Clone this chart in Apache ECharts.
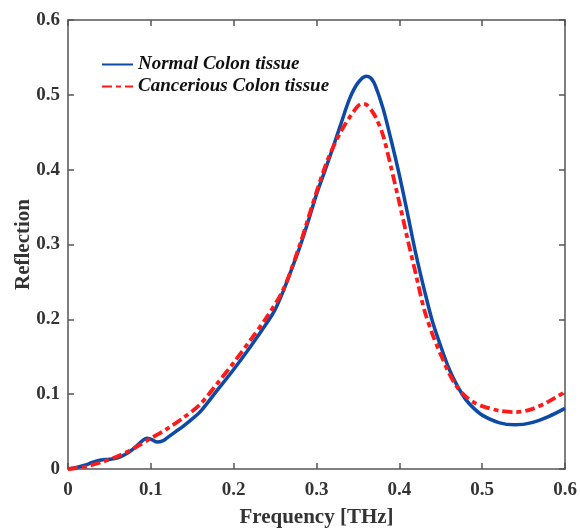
<!DOCTYPE html>
<html>
<head>
<meta charset="utf-8">
<script src="https://cdn.jsdelivr.net/npm/echarts@6/dist/echarts.min.js"></script>
<style>
  html, body { margin: 0; padding: 0; background: #fff; }
  #main { width: 580px; height: 529px; }
</style>
</head>
<body>
<div id="main"></div>
<script>
// data
const seriesNames = ['Normal Colon tissue', 'Cancerious Colon tissue']

const normalFreq = [0, 0.01, 0.02, 0.03, 0.04, 0.05, 0.06, 0.07, 0.08, 0.09, 0.095, 0.1, 0.108, 0.115, 0.12, 0.13, 0.14, 0.15, 0.16, 0.18, 0.2, 0.22, 0.24, 0.25, 0.26, 0.27, 0.28, 0.29, 0.3, 0.31, 0.32, 0.33, 0.34, 0.35, 0.36, 0.365, 0.37, 0.38, 0.39, 0.4, 0.41, 0.42, 0.43, 0.44, 0.45, 0.46, 0.47, 0.48, 0.49, 0.5, 0.52, 0.54, 0.56, 0.58, 0.6]
const normalRefl = [0, 0.002, 0.005, 0.009, 0.012, 0.013, 0.015, 0.02, 0.028, 0.038, 0.041, 0.04, 0.036, 0.038, 0.042, 0.05, 0.058, 0.067, 0.077, 0.105, 0.133, 0.163, 0.195, 0.213, 0.238, 0.267, 0.297, 0.331, 0.367, 0.398, 0.43, 0.463, 0.495, 0.516, 0.525, 0.523, 0.515, 0.483, 0.44, 0.393, 0.341, 0.287, 0.24, 0.197, 0.164, 0.134, 0.111, 0.093, 0.081, 0.072, 0.062, 0.059, 0.062, 0.07, 0.081]

const cancerFreq = [0, 0.02, 0.04, 0.06, 0.08, 0.1, 0.12, 0.14, 0.16, 0.18, 0.2, 0.22, 0.24, 0.26, 0.28, 0.29, 0.3, 0.31, 0.32, 0.33, 0.34, 0.35, 0.355, 0.36, 0.37, 0.38, 0.39, 0.4, 0.41, 0.42, 0.43, 0.44, 0.45, 0.46, 0.47, 0.48, 0.49, 0.5, 0.52, 0.54, 0.56, 0.58, 0.6]
const cancerRefl = [0, 0.003, 0.009, 0.017, 0.028, 0.041, 0.054, 0.069, 0.087, 0.114, 0.142, 0.172, 0.203, 0.24, 0.3, 0.335, 0.37, 0.403, 0.43, 0.452, 0.47, 0.485, 0.488, 0.487, 0.473, 0.447, 0.403, 0.356, 0.307, 0.26, 0.213, 0.18, 0.153, 0.128, 0.109, 0.097, 0.089, 0.084, 0.078, 0.076, 0.08, 0.09, 0.103]

const xTicks = [0, 0.1, 0.2, 0.3, 0.4, 0.5, 0.6]
const yTicks = [0, 0.1, 0.2, 0.3, 0.4, 0.5, 0.6]

const pairs = (xs, ys) => xs.map((x, i) => [x, ys[i]])
const fmt = v => (v === 0 ? '0' : v.toFixed(1))

const font = 'Liberation Serif'
const axisColor = '#555'
const textColor = '#333'

const chart = echarts.init(document.getElementById('main'))

const baseAxis = (ticks) => ({
    type: 'value',
    min: ticks[0],
    max: ticks[ticks.length - 1],
    interval: 0.1,
    splitLine: { show: false },
    axisLine: { show: true, onZero: false, lineStyle: { color: axisColor, width: 1.5 } },
    axisTick: { show: true, inside: true, length: 6, lineStyle: { color: axisColor, width: 1.5 } }
})

const option = {
    animation: false,
    grid: { left: 68, right: 15, top: 20, bottom: 60, containLabel: false, outerBoundsMode: 'none' },
    legend: {
        orient: 'vertical',
        left: 96,
        top: 50,
        itemWidth: 31,
        itemHeight: 14,
        itemGap: 3,
        data: seriesNames,
        itemStyle: { opacity: 0 },
        textStyle: {
            fontFamily: font,
            fontStyle: 'italic',
            fontWeight: 'bold',
            fontSize: 19,
            color: '#111'
        }
    },
    xAxis: [
        Object.assign(baseAxis(xTicks), {
            position: 'bottom',
            name: 'Frequency [THz]',
            nameLocation: 'middle',
            nameMoveOverlap: false,
            nameGap: 38,
            nameTextStyle: { fontFamily: font, fontWeight: 'bold', fontSize: 21, color: textColor },
            axisLabel: { margin: 12, formatter: fmt, fontFamily: font, fontWeight: 'bold', fontSize: 19, color: textColor }
        }),
        Object.assign(baseAxis(xTicks), {
            position: 'top',
            axisLabel: { show: false }
        })
    ],
    yAxis: [
        Object.assign(baseAxis(yTicks), {
            position: 'left',
            name: 'Reflection',
            nameLocation: 'middle',
            nameMoveOverlap: false,
            nameGap: 34,
            nameTextStyle: { fontFamily: font, fontWeight: 'bold', fontSize: 21, color: textColor },
            axisLabel: { margin: 8, formatter: fmt, fontFamily: font, fontWeight: 'bold', fontSize: 19, color: textColor }
        }),
        Object.assign(baseAxis(yTicks), {
            position: 'right',
            axisLabel: { show: false }
        })
    ],
    series: [
        {
            name: seriesNames[0],
            type: 'line',
            smooth: 0.3,
            symbol: 'none',
            z: 2,
            data: pairs(normalFreq, normalRefl),
            lineStyle: { color: '#0d4aa6', width: 3.5 },
            itemStyle: { color: '#0d4aa6' }
        },
        {
            name: seriesNames[1],
            type: 'line',
            smooth: 0.3,
            symbol: 'none',
            z: 3,
            data: pairs(cancerFreq, cancerRefl),
            lineStyle: { color: '#ff1a1a', width: 3.8, type: [10, 4, 5, 4] },
            itemStyle: { color: '#ff1a1a' }
        }
    ]
}

chart.setOption(option)
</script>
</body>
</html>
